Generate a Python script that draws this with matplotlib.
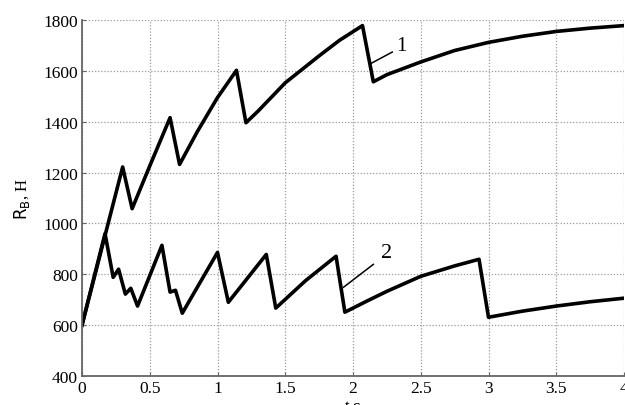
import matplotlib

matplotlib.use("Agg")
import matplotlib.pyplot as plt

# curve 1
t1 = [0.0, 0.30, 0.37, 0.50, 0.65, 0.72, 0.85, 1.00, 1.14, 1.21, 1.30, 1.50,
      1.75, 1.90, 2.07, 2.15, 2.25, 2.50, 2.75, 3.00, 3.25, 3.50, 3.75, 4.00]
r1 = [600, 1222, 1058, 1226, 1416, 1232, 1360, 1495, 1602, 1396, 1442, 1553,
      1659, 1720, 1778, 1557, 1585, 1635, 1680, 1712, 1736, 1755, 1768, 1778]

# curve 2
t2 = [0.0, 0.17, 0.23, 0.27, 0.32, 0.36, 0.41, 0.59, 0.65, 0.69, 0.74, 1.00,
      1.08, 1.36, 1.43, 1.65, 1.875, 1.94, 2.10, 2.25, 2.50, 2.75, 2.93, 3.00,
      3.25, 3.50, 3.75, 4.00]
r2 = [600, 960, 788, 820, 722, 745, 675, 914, 730, 737, 647, 886,
      690, 878, 667, 775, 871, 651, 694, 733, 792, 833, 859, 631,
      655, 675, 692, 706]

x_ticks = [0, 0.5, 1, 1.5, 2, 2.5, 3, 3.5, 4]
x_labels = ["0", "0.5", "1", "1.5", "2", "2.5", "3", "3.5", "4"]
y_ticks = [400, 600, 800, 1000, 1200, 1400, 1600, 1800]

serif = "Liberation Serif"

fig = plt.figure(figsize=(6.25, 4.06), dpi=100)
ax = fig.add_axes([82 / 625, 29 / 406, 542 / 625, 356 / 406])

ax.plot(t1, r1, color="black", lw=2.6, solid_joinstyle="round")
ax.plot(t2, r2, color="black", lw=2.6, solid_joinstyle="round")

# curve labels with leader lines
ax.plot([2.125, 2.29], [1627, 1674], color="black", lw=1.1)
ax.text(2.36, 1698, "1", ha="center", va="center", fontsize=15, family=serif)
ax.plot([1.93, 2.15], [749, 839], color="black", lw=1.1)
ax.text(2.25, 886, "2", ha="center", va="center", fontsize=16, family=serif)

ax.set_xlim(0, 4)
ax.set_ylim(400, 1800)
ax.set_xticks(x_ticks)
ax.set_xticklabels(x_labels)
ax.set_yticks(y_ticks)
for lbl in ax.get_xticklabels() + ax.get_yticklabels():
    lbl.set_family(serif)
    lbl.set_fontsize(12.5)
ax.tick_params(direction="in", length=3, width=0.8, color="#666666", pad=3)

ax.grid(True, linestyle=(0, (1, 1.5)), color="#9a9a9a", lw=0.9)
for side in ("top", "right"):
    ax.spines[side].set_visible(False)
for side in ("left", "bottom"):
    ax.spines[side].set_color("#666666")
    ax.spines[side].set_linewidth(1.3)

ax.set_ylabel(r"$\mathrm{R_{B}}$, H", family=serif, fontsize=12, labelpad=8)
ax.set_xlabel("t,c", family=serif, fontsize=12, labelpad=1)

fig.savefig("out.png", dpi=100)
plt.close(fig)
